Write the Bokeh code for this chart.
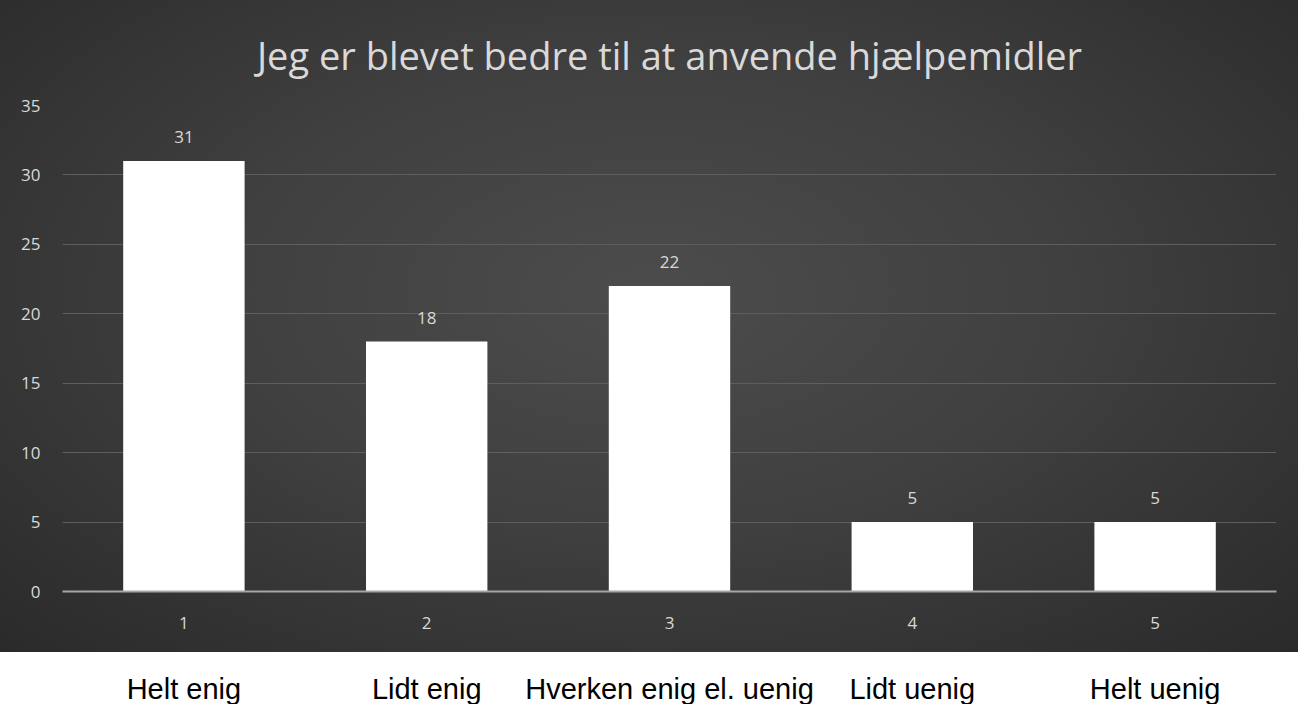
from bokeh.plotting import figure
from bokeh.models import ColumnDataSource, Range1d, SingleIntervalTicker, LabelSet
from bokeh.layouts import column
from bokeh.embed import file_html
from bokeh.resources import INLINE
from bokeh.core.properties import value

categories = ["1", "2", "3", "4", "5"]
counts = [31, 18, 22, 5, 5]
answer_labels = ["Helt enig", "Lidt enig", "Hverken enig el. uenig", "Lidt uenig", "Helt uenig"]
title_text = "Jeg er blevet bedre til at anvende hjælpemidler"

FONT = "Open Sans"
TXT = "#d9d9d9"

src = ColumnDataSource(data=dict(cat=categories, n=counts, lab=[str(v) for v in counts]))

p = figure(
    x_range=categories, y_range=Range1d(0, 35),
    width=1298, height=652,
    output_backend="svg", toolbar_location=None,
    min_border_left=62, min_border_right=22, min_border_top=105, min_border_bottom=61,
    styles={"background": "radial-gradient(ellipse at 50% 45%, #4c4c4c 0%, #404040 45%, #2a2a2a 100%)"},
)
p.border_fill_alpha = 0
p.background_fill_alpha = 0
p.outline_line_color = None

p.title.text = title_text
p.title.align = "center"
p.title.text_font = FONT
p.title.text_font_style = "normal"
p.title.text_font_size = "38px"
p.title.text_color = TXT
p.title.standoff = 50

p.vbar(x="cat", top="n", width=0.5, source=src, fill_color="white", line_color=None)

labels = LabelSet(x="cat", y="n", text="lab", source=src, text_align="center",
                  text_baseline="bottom", y_offset=18, text_font=value(FONT),
                  text_font_size="17px", text_color=TXT)
p.add_layout(labels)

p.yaxis.ticker = SingleIntervalTicker(interval=5)
p.yaxis.axis_line_color = None
p.yaxis.major_tick_line_color = None
p.yaxis.minor_tick_line_color = None
p.yaxis.major_label_text_color = TXT
p.yaxis.major_label_text_font = FONT
p.yaxis.major_label_text_font_size = "17px"
p.yaxis.major_label_standoff = 16

p.xaxis.axis_line_color = "#a6a6a6"
p.xaxis.axis_line_width = 2
p.xaxis.major_tick_line_color = None
p.xaxis.minor_tick_line_color = None
p.xaxis.major_label_text_color = TXT
p.xaxis.major_label_text_font = FONT
p.xaxis.major_label_text_font_size = "17px"
p.xaxis.major_label_standoff = 19

p.xgrid.grid_line_color = None
p.ygrid.grid_line_color = "#5e5e5e"
p.ygrid.grid_line_width = 1

# answer text row below the chart
src2 = ColumnDataSource(data=dict(cat=categories, lab=answer_labels))
p2 = figure(
    x_range=p.x_range, y_range=Range1d(0, 1),
    width=1298, height=52,
    output_backend="svg", toolbar_location=None,
    min_border_left=62, min_border_right=22, min_border_top=0, min_border_bottom=0,
)
p2.axis.visible = False
p2.grid.visible = False
p2.outline_line_color = None
p2.background_fill_color = "white"
p2.border_fill_color = "white"
p2.text(x="cat", y=0, text="lab", source=src2, text_align="center",
        text_baseline="bottom", text_font=value("Liberation Sans"),
        text_font_size="29px", text_color="black")

layout = column(p, p2, spacing=0)
open("out.html", "w").write(file_html(layout, INLINE))
